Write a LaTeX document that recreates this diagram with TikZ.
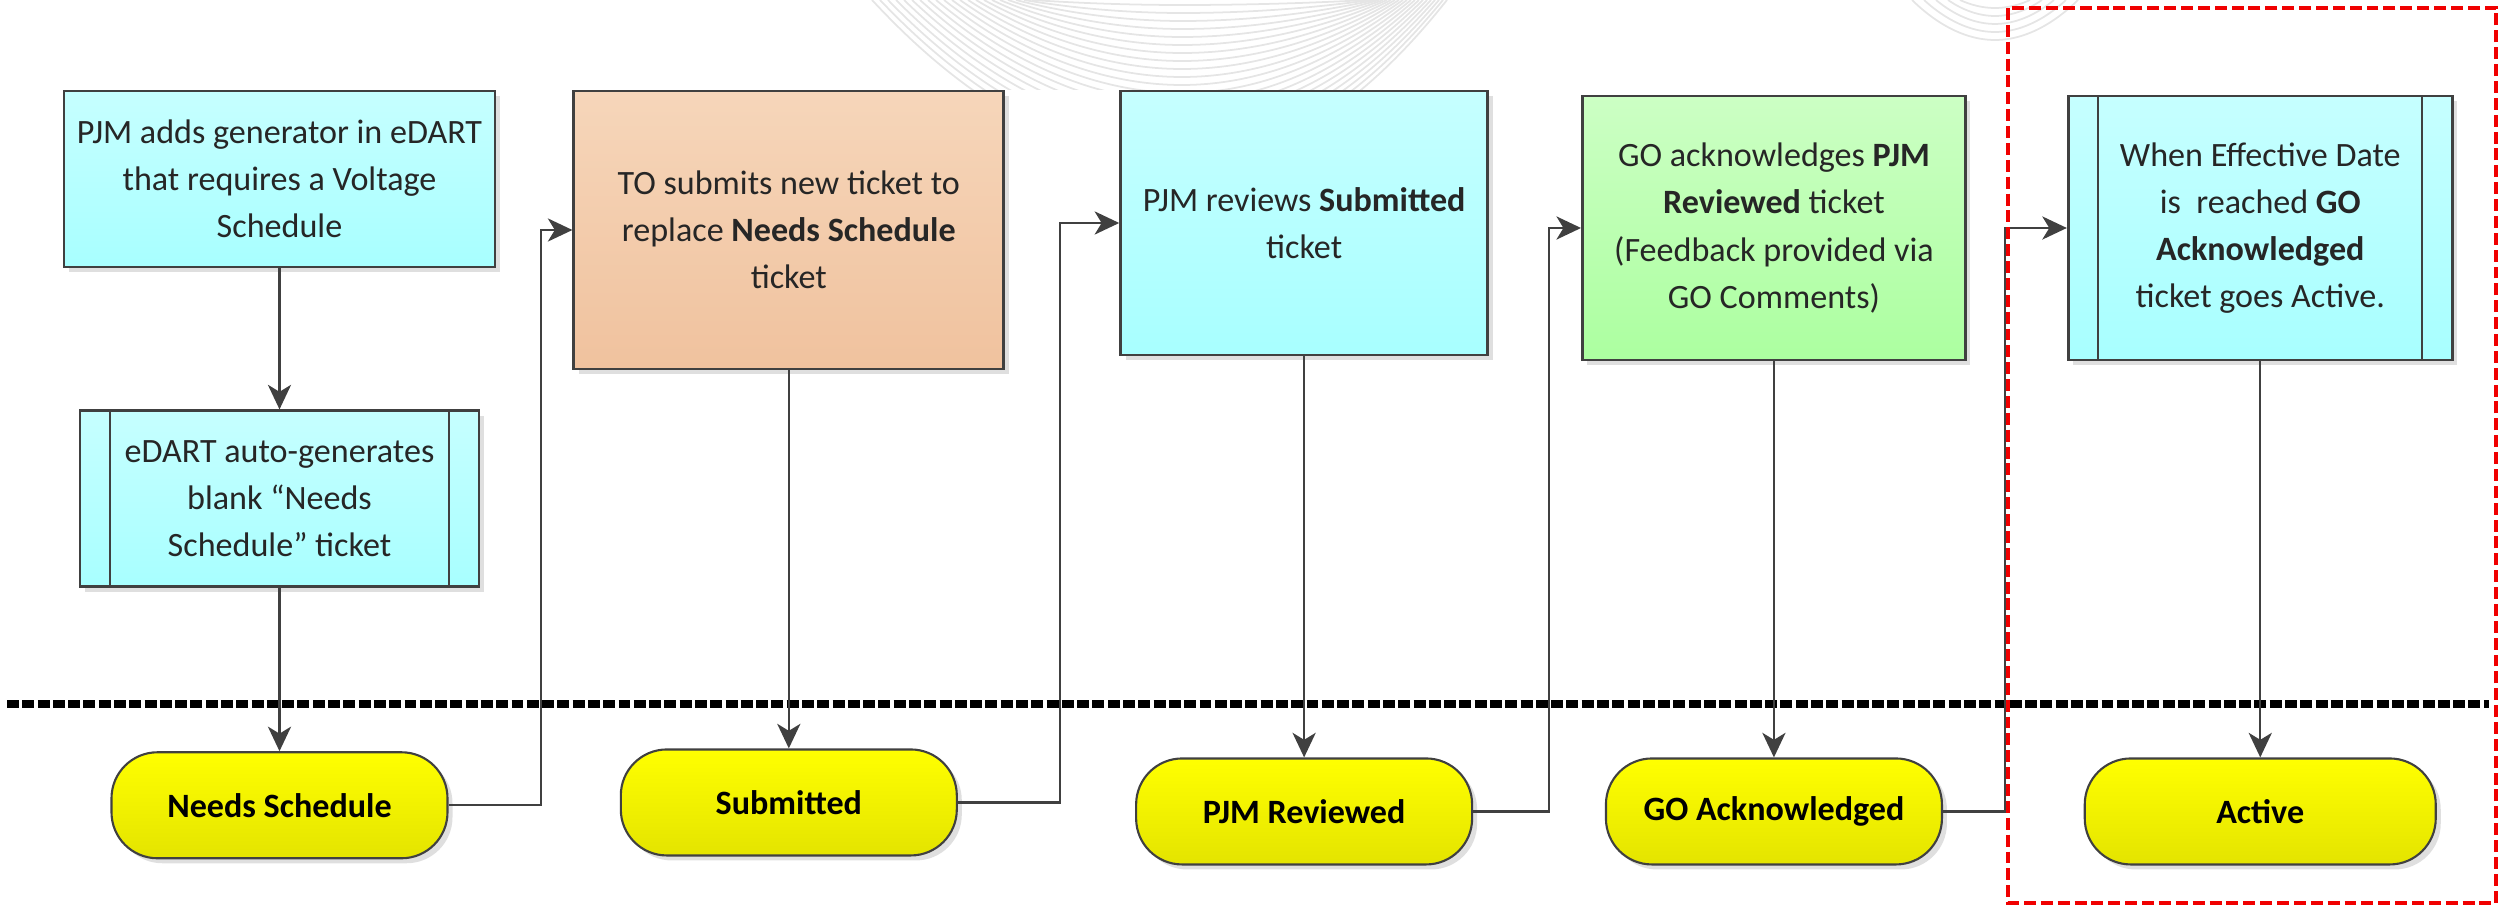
\documentclass[tikz,border=0pt]{standalone}
\usepackage{fontspec}
\setmainfont{Carlito}
\usetikzlibrary{positioning,shadows,arrows.meta}

\definecolor{linegray}{RGB}{64,64,64}
\definecolor{cyantop}{RGB}{198,255,255}
\definecolor{cyanbot}{RGB}{168,255,255}
\definecolor{orangetop}{RGB}{246,214,186}
\definecolor{orangebot}{RGB}{240,194,158}
\definecolor{greentop}{RGB}{204,255,196}
\definecolor{greenbot}{RGB}{172,255,160}
\definecolor{yellowtop}{RGB}{255,255,0}
\definecolor{yellowbot}{RGB}{228,228,0}
\definecolor{framered}{RGB}{240,0,0}

\begin{document}
\begin{tikzpicture}[
	stepbox/.style={draw=linegray, line width=0.8pt, align=center, inner sep=0pt, text=black!85,
		font=\fontsize{9.7pt}{13.4pt}\selectfont,
		drop shadow={shadow xshift=0.05cm, shadow yshift=-0.05cm, fill=black!25}},
	cyanbox/.style={stepbox, top color=cyantop, bottom color=cyanbot},
	orangebox/.style={stepbox, top color=orangetop, bottom color=orangebot},
	greenbox/.style={stepbox, top color=greentop, bottom color=greenbot},
	procbox/.style={path picture={
		\draw[linegray, line width=0.6pt] ([xshift=0.3cm]path picture bounding box.north west) -- ([xshift=0.3cm]path picture bounding box.south west);
		\draw[linegray, line width=0.6pt] ([xshift=-0.3cm]path picture bounding box.north east) -- ([xshift=-0.3cm]path picture bounding box.south east);}},
	statepill/.style={draw=linegray, line width=0.6pt, rounded corners=4.6mm, top color=yellowtop, bottom color=yellowbot,
		minimum width=3.36cm, minimum height=1.06cm, inner sep=0pt, font=\fontsize{9.7pt}{13.4pt}\selectfont\bfseries,
		drop shadow={shadow xshift=0.05cm, shadow yshift=-0.05cm, fill=black!25}},
	flow/.style={draw=linegray, line width=0.6pt, -{Stealth[length=7pt, width=6.6pt, inset=2pt]}},
	sepline/.style={line width=2pt, dash pattern=on 3.4pt off 0.95pt},
	focusframe/.style={draw=framered, line width=1.4pt, dash pattern=on 3.4pt off 1.4pt},
	bgwave/.style={draw=black!10, line width=0.5pt},
	]
	\useasboundingbox (0,0) rectangle (24.99,-9.07);
	
	%Background
	\begin{scope}
		\clip (0,0) rectangle (24.99,-0.9);
		\foreach \k in {0,...,20}{
			\pgfmathsetmacro\xl{11.82-(1.5+0.08*\k)}
			\pgfmathsetmacro\xr{11.82+(1.85+0.04*\k)}
			\pgfmathsetmacro\yb{-(0.05+0.08*\k)}
			\draw[bgwave] (\xl,0) parabola bend (11.82,\yb) (\xr,0);
		}
		\foreach \k in {0,...,4}{
			\pgfmathsetmacro\w{0.35+0.12*\k}
			\pgfmathsetmacro\yb{-(0.08+0.08*\k)}
			\draw[bgwave] ({19.95-\w},0) parabola bend (19.95,\yb) ({19.95+\w},0);
		}
	\end{scope}
	
	%Separator
	\coordinate (sepL) at (0.07,-7.04);
	\coordinate (sepR) at (24.89,-7.04);
	\draw[sepline] (sepL) -- (sepR);
	
	%Nodes
	\node[cyanbox, minimum width=4.31cm, minimum height=1.76cm] (adds) at (2.795,-1.79)
		{PJM adds generator in eDART\\that requires a Voltage\\Schedule};
	\node[cyanbox, procbox, minimum width=3.99cm, minimum height=1.76cm] (auto) [below=1.41cm of adds]
		{eDART auto-generates\\blank “Needs\\Schedule” ticket};
	\node[statepill] (needs) [below=1.63cm of auto] {Needs Schedule};
	
	\node[orangebox, minimum width=4.30cm, minimum height=2.78cm] (submit) [right=0.76cm of adds.north east, anchor=north west]
		{TO submits new ticket to\\replace \textbf{Needs Schedule}\\ticket};
	\node[statepill] (submitted) [below=3.78cm of submit] {Submitted};
	
	\node[cyanbox, minimum width=3.67cm, minimum height=2.64cm] (review) [right=1.14cm of submit.north east, anchor=north west]
		{PJM reviews \textbf{Submitted}\\ticket};
	\node[statepill] (reviewed) [below=4.01cm of review] {PJM Reviewed};
	
	\node[greenbox, minimum width=3.83cm, minimum height=2.64cm] (ack) [below right=0.05cm and 0.92cm of review.north east, anchor=north west]
		{GO acknowledges \textbf{PJM}\\\textbf{Reviewed} ticket\\(Feedback provided via\\GO Comments)};
	\node[statepill] (acked) [below=3.96cm of ack] {GO Acknowledged};
	
	\node[cyanbox, procbox, minimum width=3.84cm, minimum height=2.64cm] (effective) [right=1.0cm of ack.north east, anchor=north west]
		{When Effective Date\\is\ \ reached \textbf{GO}\\\textbf{Acknowledged}\\ticket goes Active.};
	\node[statepill, minimum width=3.51cm] (active) [below=3.96cm of effective] {Active};
	
	%Lines
	\draw[flow] (adds) -- (auto);
	\draw[flow] (auto) -- (needs);
	\draw[flow] (needs.east) -- ++(0.92,0) |- (submit.west);
	\draw[flow] (submit) -- (submitted);
	\draw[flow] (submitted.east) -- ++(1.02,0) |- (review.west);
	\draw[flow] (review) -- (reviewed);
	\draw[flow] (reviewed.east) -- ++(0.76,0) |- (ack.west);
	\draw[flow] (ack) -- (acked);
	\draw[flow] (acked.east) -- ++(0.62,0) |- (effective.west);
	\draw[flow] (effective) -- (active);
	
	%Frame
	\draw[focusframe] (20.08,-0.08) rectangle (24.96,-9.03);
\end{tikzpicture}
\end{document}
